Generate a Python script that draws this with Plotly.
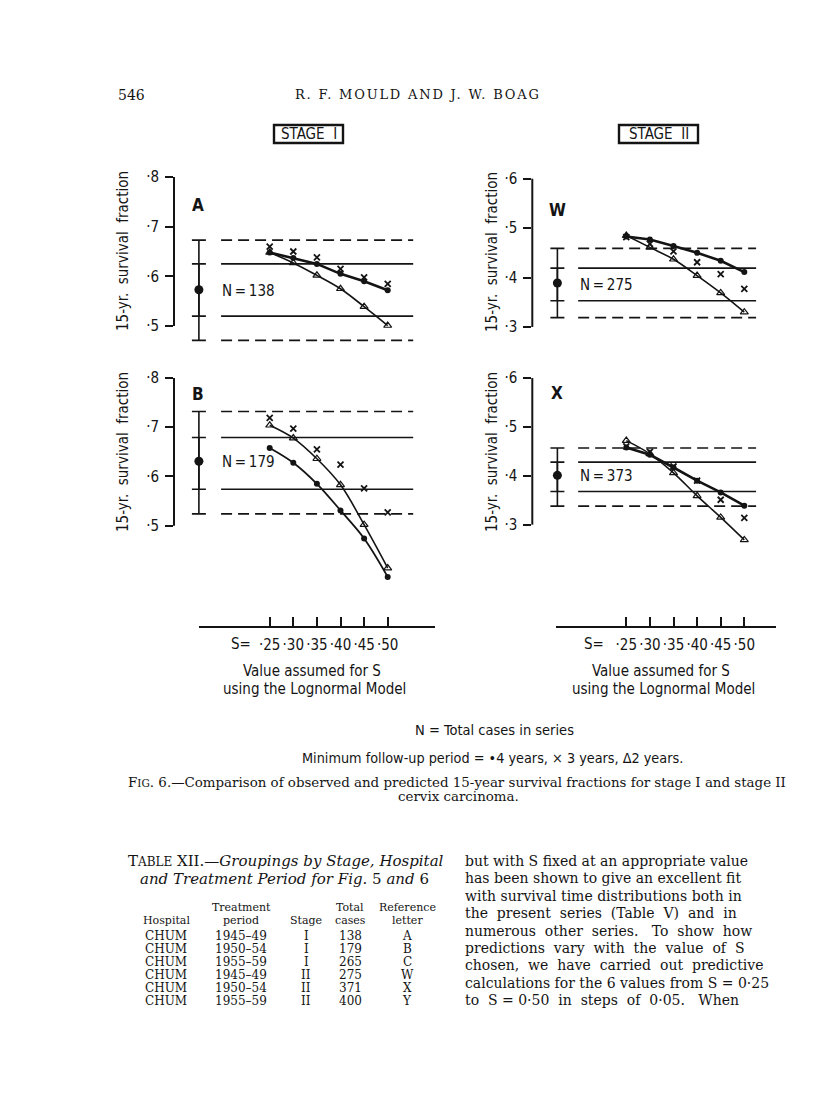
import plotly.graph_objects as go

W, H = 816, 1114
INK = "#141414"
SANS = "Liberation Sans Narrow, DejaVu Sans Condensed, Arial Narrow, sans-serif"
SERIF = "DejaVu Serif, Liberation Serif, serif"

# values assumed for S (lognormal model)
S_VALUES = [0.25, 0.30, 0.35, 0.40, 0.45, 0.50]
S_TICKTEXT = ["·25", "·30", "·35", "·40", "·45", "·50"]

# predicted 15-yr survival fraction, by minimum follow-up period
A_4YR = [0.648, 0.637, 0.625, 0.605, 0.590, 0.572]
A_3YR = [0.660, 0.650, 0.638, 0.615, 0.598, 0.585]
A_2YR = [0.648, 0.627, 0.602, 0.575, 0.539, 0.501]

B_4YR = [0.658, 0.628, 0.585, 0.531, 0.474, 0.396]
B_3YR = [0.719, 0.697, 0.655, 0.624, 0.576, 0.527]
B_2YR = [0.704, 0.678, 0.636, 0.583, 0.502, 0.414]

W_4YR = [0.483, 0.477, 0.464, 0.450, 0.434, 0.411]
W_3YR = [0.482, 0.468, 0.453, 0.431, 0.407, 0.377]
W_2YR = [0.485, 0.461, 0.437, 0.404, 0.369, 0.330]

X_4YR = [0.458, 0.443, 0.417, 0.390, 0.366, 0.339]
X_3YR = [0.460, 0.449, 0.419, 0.390, 0.351, 0.314]
X_2YR = [0.472, 0.445, 0.406, 0.359, 0.315, 0.269]

# observed fraction with inner (solid) and outer (dashed) limits
A_OBS, A_INNER, A_OUTER, A_N = 0.573, [0.520, 0.625], [0.471, 0.673], 138
B_OBS, B_INNER, B_OUTER, B_N = 0.631, [0.574, 0.679], [0.524, 0.732], 179
W_OBS, W_INNER, W_OUTER, W_N = 0.389, [0.353, 0.419], [0.319, 0.459], 275
X_OBS, X_INNER, X_OUTER, X_N = 0.401, [0.368, 0.428], [0.338, 0.457], 373

Y_TICKS_I = [0.5, 0.6, 0.7, 0.8]
Y_TICKS_II = [0.3, 0.4, 0.5, 0.6]

# Table XII
HOSPITAL = ["CHUM"] * 6
PERIOD = ["1945–49", "1950–54", "1955–59", "1945–49", "1950–54", "1955–59"]
STAGE = ["I", "I", "I", "II", "II", "II"]
CASES = [138, 179, 265, 275, 371, 400]
LETTER = ["A", "B", "C", "W", "X", "Y"]

PARAGRAPH = [
    "but with S fixed at an appropriate value",
    "has been shown to give an excellent fit",
    "with survival time distributions both in",
    "the  present  series  (Table  V)  and  in",
    "numerous  other  series.   To  show  how",
    "predictions  vary  with  the  value  of  S",
    "chosen,  we  have  carried  out  predictive",
    "calculations for the 6 values from S = 0·25",
    "to  S = 0·50  in  steps  of  0·05.   When",
]


def fx(p):
    return p / W


def fy(p):
    return 1 - p / H


PPU = 472.0  # pixels per unit of S
S0_LEFT, S0_RIGHT = 261.7, 618.3  # pixel of S = 0.25


def s_at(p, s0):
    return 0.25 + (p - s0) / PPU


panels = [
    dict(name="A", ax="", y4=A_4YR, y3=A_3YR, y2=A_2YR, obs=A_OBS, inner=A_INNER, outer=A_OUTER,
         n=A_N, ticks=Y_TICKS_I, s0=S0_LEFT, xdom=(166, 430), ydom=(160, 340),
         yref=(0.8, 169, 496.7), obs_x=0.10, band=(0.147, 0.554), curve=False,
         letter=(190, 197), ntxt=(212, 283), ytitle=(115, 243)),
    dict(name="B", ax="2", y4=B_4YR, y3=B_3YR, y2=B_2YR, obs=B_OBS, inner=B_INNER, outer=B_OUTER,
         n=B_N, ticks=Y_TICKS_I, s0=S0_LEFT, xdom=(166, 430), ydom=(362, 580),
         yref=(0.8, 370, 492.3), obs_x=0.10, band=(0.147, 0.554), curve=True,
         letter=(190, 386), ntxt=(212, 454), ytitle=(115, 444)),
    dict(name="W", ax="3", y4=W_4YR, y3=W_3YR, y2=W_2YR, obs=W_OBS, inner=W_INNER, outer=W_OUTER,
         n=W_N, ticks=Y_TICKS_II, s0=S0_RIGHT, xdom=(524.3, 770), ydom=(162, 340),
         yref=(0.6, 170.7, 494.3), obs_x=0.104, band=(0.148, 0.525), curve=False,
         letter=(549, 202), ntxt=(570, 277), ytitle=(484, 244)),
    dict(name="X", ax="4", y4=X_4YR, y3=X_3YR, y2=X_2YR, obs=X_OBS, inner=X_INNER, outer=X_OUTER,
         n=X_N, ticks=Y_TICKS_II, s0=S0_RIGHT, xdom=(524.3, 770), ydom=(362, 545),
         yref=(0.6, 370, 489.0), obs_x=0.104, band=(0.148, 0.525), curve=False,
         letter=(549, 385), ntxt=(570, 468), ytitle=(484, 444)),
]

fig = go.Figure()
layout = dict(width=W, height=H, margin=dict(l=0, r=0, t=0, b=0),
              paper_bgcolor="white", plot_bgcolor="white", showlegend=False)
shapes = []
annotations = []


def ann(text, x, y, size, font=SANS, xanchor="center", **kw):
    annotations.append(dict(text=text, x=fx(x), y=fy(y), xref="paper", yref="paper",
                            xanchor=xanchor, yanchor="middle", showarrow=False,
                            font=dict(family=font, size=size, color=INK), **kw))


for p in panels:
    xa, ya = "x" + p["ax"], "y" + p["ax"]
    v_ref, p_ref, ppu = p["yref"]
    top_px, bot_px = p["ydom"]
    yr = [v_ref - (bot_px - p_ref) / ppu, v_ref + (p_ref - top_px) / ppu]
    xr = [s_at(p["xdom"][0], p["s0"]), s_at(p["xdom"][1], p["s0"])]

    layout["xaxis" + p["ax"]] = dict(domain=[fx(p["xdom"][0]), fx(p["xdom"][1])], range=xr,
                                     anchor=ya, visible=False, fixedrange=True)
    layout["yaxis" + p["ax"]] = dict(domain=[fy(bot_px), fy(top_px)], range=yr, anchor=xa,
                                     showgrid=False, zeroline=False, showline=False,
                                     ticks="outside", ticklen=8, tickwidth=1.6, tickcolor=INK,
                                     tickvals=p["ticks"],
                                     ticktext=["·" + str(int(round(t * 10))) for t in p["ticks"]],
                                     tickfont=dict(family=SANS, size=15, color=INK),
                                     ticklabelstandoff=3)
    # axis line only over the labelled span
    shapes.append(dict(type="line", xref="paper", yref=ya, x0=fx(p["xdom"][0]), x1=fx(p["xdom"][0]),
                       y0=p["ticks"][0], y1=p["ticks"][-1], line=dict(color=INK, width=2)))

    # observed limits as horizontal bands
    for v, dash in [(p["outer"][1], "11px,6px"), (p["inner"][1], "solid"),
                    (p["inner"][0], "solid"), (p["outer"][0], "11px,6px")]:
        fig.add_trace(go.Scatter(x=list(p["band"]), y=[v, v], mode="lines", xaxis=xa, yaxis=ya,
                                 line=dict(color=INK, width=1.6, dash=dash), hoverinfo="skip"))

    # observed value with limits
    fig.add_trace(go.Scatter(
        x=[p["obs_x"]], y=[p["obs"]], mode="markers", xaxis=xa, yaxis=ya,
        marker=dict(color=INK, size=9),
        error_y=dict(type="data", symmetric=False, array=[p["outer"][1] - p["obs"]],
                     arrayminus=[p["obs"] - p["outer"][0]], color=INK, thickness=1.6, width=7)))
    fig.add_trace(go.Scatter(
        x=[p["obs_x"]], y=[p["obs"]], mode="markers", xaxis=xa, yaxis=ya,
        marker=dict(color=INK, size=1, opacity=0),
        error_y=dict(type="data", symmetric=False, array=[p["inner"][1] - p["obs"]],
                     arrayminus=[p["obs"] - p["inner"][0]], color=INK, thickness=1.6, width=7)))

    shape = "spline" if p["curve"] else "linear"
    fig.add_trace(go.Scatter(x=S_VALUES, y=p["y2"], mode="lines+markers", xaxis=xa, yaxis=ya,
                             line=dict(color=INK, width=1.6, shape="spline"),
                             marker=dict(symbol="triangle-up-open", size=7, color=INK,
                                         line=dict(width=1.2, color=INK))))
    fig.add_trace(go.Scatter(x=S_VALUES, y=p["y4"], mode="lines+markers", xaxis=xa, yaxis=ya,
                             line=dict(color=INK, width=1.8 if p["curve"] else 2.6, shape=shape),
                             marker=dict(symbol="circle", size=6, color=INK)))
    fig.add_trace(go.Scatter(x=S_VALUES, y=p["y3"], mode="markers", xaxis=xa, yaxis=ya,
                             marker=dict(symbol="x-thin", size=6, color=INK,
                                         line=dict(width=1.8, color=INK))))

    ann("<b>" + p["name"] + "</b>", p["letter"][0], p["letter"][1], 17)
    ann("N\u2009=\u2009" + str(p["n"]), p["ntxt"][0], p["ntxt"][1], 15, xanchor="left")
    ann("15-yr.  survival  fraction", p["ytitle"][0], p["ytitle"][1], 15, textangle=-90)

# S scales under each column
for ax, s0, s_end, x_s in [("5", S0_LEFT, 0.60, 233), ("6", S0_RIGHT, 0.567, 586)]:
    x0, x1 = s0 + (0.10 - 0.25) * PPU, s0 + (s_end - 0.25) * PPU
    layout["xaxis" + ax] = dict(domain=[fx(x0), fx(x1)], range=[0.10, s_end], anchor="y" + ax,
                                showline=True, linewidth=1.8, linecolor=INK, mirror=False,
                                showgrid=False, zeroline=False, ticks="inside", ticklen=9,
                                tickwidth=1.6, tickcolor=INK,
                                tickvals=[0.10] + S_VALUES + [s_end],
                                ticktext=[""] + S_TICKTEXT + [""],
                                tickfont=dict(family=SANS, size=15, color=INK),
                                ticklabelstandoff=4, fixedrange=True)
    layout["yaxis" + ax] = dict(domain=[fy(618), fy(600)], range=[0, 1], anchor="x" + ax,
                                visible=False, fixedrange=True)
    fig.add_trace(go.Scatter(x=[], y=[], xaxis="x" + ax, yaxis="y" + ax))
    ann("S=", x_s, 636, 15)
    ann("Value assumed for S", (x0 + x1) / 2 - 5, 663, 15)
    ann("using the Lognormal Model", (x0 + x1) / 2 - 2, 681, 15)

# stage boxes
for label, x0, x1 in [("STAGE  I", 266, 335), ("STAGE  II", 611, 690)]:
    shapes.append(dict(type="rect", xref="paper", yref="paper", x0=fx(x0), x1=fx(x1),
                       y0=fy(135), y1=fy(117), line=dict(color=INK, width=2.4)))
    ann(label, (x0 + x1) / 2, 126.5, 15)

ann("N = Total cases in series", 486, 722, 14.5)
ann("Minimum follow-up period = •4 years, × 3 years, Δ2 years.", 484, 750, 14.3)

# page text
ann("546", 108, 87, 14, font=SERIF, xanchor="left")
ann("<span style='letter-spacing:1.8px'>R. F. MOULD AND J. W. BOAG</span>", 410, 87, 13,
    font=SERIF)
ann("F<span style='font-size:10.5px'>IG</span>. 6.—Comparison of observed and predicted 15-year "
    "survival fractions for stage I and stage II", 118, 774, 13.4, font=SERIF, xanchor="left")
ann("cervix carcinoma.", 450, 788, 13.4, font=SERIF)

ann("T<span style='font-size:12px'>ABLE</span> XII.—<i>Groupings by Stage, Hospital</i>",
    118, 853, 15, font=SERIF, xanchor="left")
ann("<i>and Treatment Period for Fig.</i> 5 <i>and</i> 6", 276, 871, 15, font=SERIF)

col_x = [158, 233, 298, 342, 399]
for x, t in zip(col_x[1:], ["Treatment", "", "Total", "Reference"]):
    if t:
        ann(t, x, 899, 11, font=SERIF)
for x, t in zip(col_x, ["Hospital", "period", "Stage", "cases", "letter"]):
    ann(t, x, 912, 11, font=SERIF)
row_y = [928, 941, 954, 967, 980, 993]
for i, y in enumerate(row_y):
    for x, t in zip(col_x, [HOSPITAL[i], PERIOD[i], STAGE[i], str(CASES[i]), LETTER[i]]):
        ann(t, x, y, 12, font=SERIF)

for i, line in enumerate(PARAGRAPH):
    ann(line, 455, 853 + i * 17.4, 14, font=SERIF, xanchor="left")

layout["shapes"] = shapes
layout["annotations"] = annotations
fig.update_layout(**layout)

fig.write_html("out.html")
